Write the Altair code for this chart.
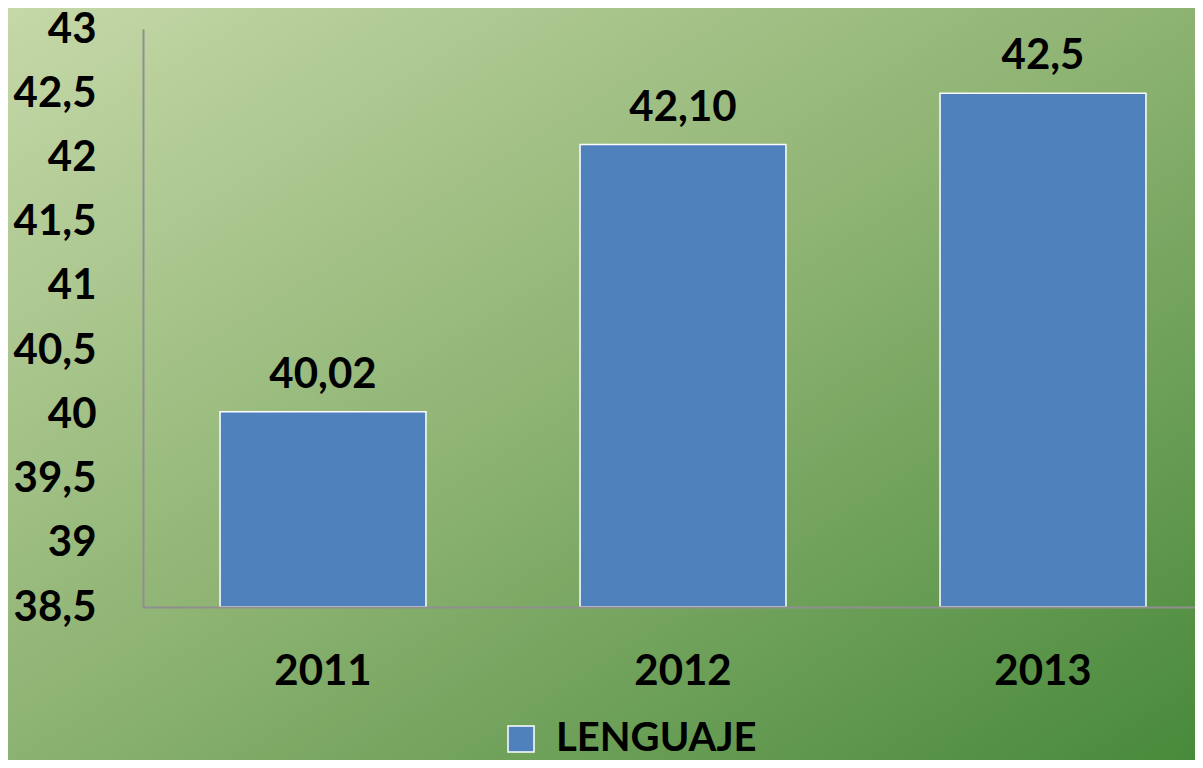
import altair as alt
import pandas as pd

years = ["2011", "2012", "2013"]
values = [40.02, 42.10, 42.5]
value_labels = ["40,02", "42,10", "42,5"]
series_name = ["LENGUAJE", "LENGUAJE", "LENGUAJE"]
y_ticks = [38.5, 39, 39.5, 40, 40.5, 41, 41.5, 42, 42.5, 43]
y_domain = [38.5, 43]

df = pd.DataFrame({"year": years, "value": values, "label": value_labels, "serie": series_name})
bg_df = pd.DataFrame({"k": [0]})

FONT = "Lato"
PLOT_W = 1052
PLOT_H = 578
PAD_L, PAD_T, PAD_B = 135, 21, 153

x_enc = alt.X("year:N", sort=years,
              scale=alt.Scale(range=[0, 1080], paddingInner=0.428, paddingOuter=0.214),
              axis=alt.Axis(title=None, labelAngle=0, labelFont=FONT, labelFontWeight="bold",
                            labelFontSize=42, labelColor="black", labelPadding=44,
                            ticks=False, grid=False, domainColor="#8f8f8f", domainWidth=2,
                            zindex=1))
y_enc = alt.Y("value:Q", scale=alt.Scale(domain=y_domain, zero=False, nice=False),
              axis=alt.Axis(title=None, values=y_ticks, labelFont=FONT, labelFontWeight="bold",
                            labelFontSize=42, labelColor="black", labelPadding=47,
                            labelExpr="replace(format(datum.value, '.1~f'), '.', ',')",
                            ticks=False, grid=False, domainColor="#8f8f8f", domainWidth=2,
                            zindex=1))

background = alt.Chart(bg_df).mark_rect(
    fill=alt.LinearGradient(
        gradient="linear", x1=0, y1=0, x2=1, y2=1,
        stops=[alt.GradientStop(color="#c5d8a8", offset=0),
               alt.GradientStop(color="#8cb271", offset=0.5),
               alt.GradientStop(color="#47893a", offset=1)],
    )
).encode(x=alt.value(-PAD_L), x2=alt.value(PLOT_W + 20), y=alt.value(-PAD_T), y2=alt.value(PLOT_H + PAD_B))

bars = alt.Chart(df).mark_bar(stroke="white", strokeWidth=1.5).encode(
    x=x_enc,
    y=y_enc,
    y2=alt.datum(38.5),
    color=alt.Color("serie:N", scale=alt.Scale(domain=["LENGUAJE"], range=["#4f81bd"]),
                    legend=alt.Legend(title=None, orient="none", legendX=358, legendY=690,
                                      symbolType="square", symbolSize=676,
                                      symbolStrokeColor="white", symbolStrokeWidth=1.5,
                                      symbolOpacity=1, labelLimit=0,
                                      labelFont=FONT, labelFontWeight="bold", labelFontSize=40,
                                      labelColor="black", labelOffset=15, padding=0)),
)

texts = alt.Chart(df).mark_text(font=FONT, fontWeight="bold", fontSize=42, color="black",
                                 baseline="alphabetic", dy=-24).encode(
    x=alt.X("year:N", sort=years),
    y=alt.Y("value:Q"),
    text="label:N",
)

chart = alt.layer(background, bars, texts).properties(
    width=PLOT_W, height=PLOT_H,
    autosize=alt.AutoSizeParams(type="none"),
    padding={"left": PAD_L, "top": PAD_T, "right": 0, "bottom": PAD_B},
    background="#8fb474",
).configure_view(stroke=None)

chart.save("out.html", embed_options={"renderer": "svg", "actions": False})
